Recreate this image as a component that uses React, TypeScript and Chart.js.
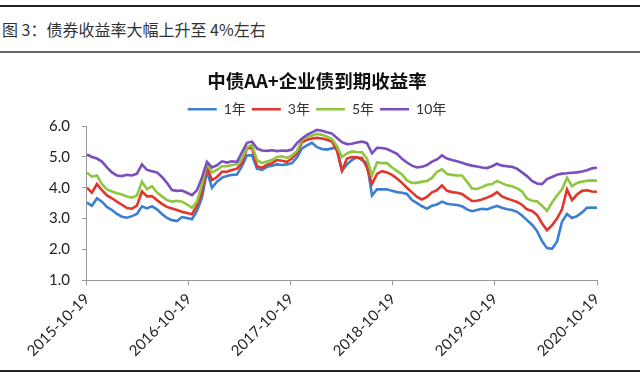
import React, { useEffect, useRef } from 'react';
import { Chart, registerables } from 'chart.js';
Chart.register(...registerables);

const headerText = '图 3：债券收益率大幅上升至 4%左右';
const chartTitle = '中债AA+企业债到期收益率';
const seriesNames = ['1年', '3年', '5年', '10年'];
const seriesColors = ['#3A7FD2', '#E2352C', '#8DC63F', '#7B4EBE'];
const xTickLabels = ['2015-10-19', '2016-10-19', '2017-10-19', '2018-10-19', '2019-10-19', '2020-10-19'];

const yield1Y = [
  3.52, 3.42, 3.66, 3.55, 3.38, 3.28, 3.15, 3.06, 3.03, 3.08,
  3.15, 3.40, 3.33, 3.40, 3.30, 3.15, 3.02, 2.95, 2.92, 3.05,
  3.02, 2.98, 3.25, 3.68, 4.54, 4.00, 4.20, 4.33, 4.38, 4.42,
  4.43, 4.70, 5.05, 5.06, 4.62, 4.58, 4.68, 4.72, 4.76, 4.74,
  4.76, 4.80, 4.98, 5.28, 5.38, 5.46, 5.32, 5.26, 5.24, 5.28,
  5.30, 4.55, 4.76, 4.90, 5.00, 4.90, 4.80, 3.75, 3.95, 3.95,
  3.95, 3.90, 3.86, 3.84, 3.80, 3.60, 3.50, 3.40, 3.32, 3.42,
  3.46, 3.55, 3.48, 3.46, 3.44, 3.40, 3.30, 3.24, 3.28, 3.32,
  3.30, 3.36, 3.41, 3.35, 3.30, 3.28, 3.22, 3.10, 2.95, 2.80,
  2.60, 2.27, 2.04, 2.02, 2.25, 2.90, 3.15, 3.02, 3.08, 3.20,
  3.35, 3.36, 3.35,
];
const yield3Y = [
  4.00, 3.84, 4.12, 3.92, 3.75, 3.66, 3.55, 3.45, 3.34, 3.32,
  3.42, 3.88, 3.72, 3.73, 3.60, 3.48, 3.38, 3.33, 3.28, 3.22,
  3.18, 3.14, 3.42, 3.85, 4.68, 4.25, 4.35, 4.52, 4.52, 4.58,
  4.62, 4.80, 5.28, 5.30, 4.70, 4.65, 4.75, 4.80, 4.90, 4.88,
  4.84, 4.95, 5.12, 5.48, 5.56, 5.60, 5.62, 5.60, 5.56, 5.50,
  5.20, 4.56, 4.95, 5.00, 4.98, 4.97, 4.65, 4.12, 4.45, 4.54,
  4.50, 4.42, 4.30, 4.16, 4.00, 3.85, 3.70, 3.62, 3.70, 3.85,
  3.92, 4.08, 3.90, 3.86, 3.84, 3.80, 3.68, 3.57, 3.58, 3.62,
  3.68, 3.75, 3.86, 3.72, 3.65, 3.60, 3.54, 3.45, 3.30, 3.25,
  3.12, 2.85, 2.62, 2.78, 3.00, 3.30, 3.95, 3.60, 3.78, 3.90,
  3.92, 3.88, 3.87,
];
const yield5Y = [
  4.49, 4.36, 4.40, 4.12, 3.95, 3.88, 3.82, 3.78, 3.72, 3.68,
  3.75, 4.20, 3.95, 4.05, 3.85, 3.72, 3.60, 3.55, 3.58, 3.55,
  3.46, 3.35, 3.55, 4.10, 4.80, 4.50, 4.58, 4.70, 4.70, 4.74,
  4.76, 4.95, 5.30, 5.40, 4.90, 4.80, 4.85, 4.90, 5.00, 5.02,
  4.97, 5.05, 5.20, 5.55, 5.65, 5.70, 5.75, 5.72, 5.66, 5.58,
  5.35, 5.00, 5.12, 5.18, 5.16, 5.15, 4.95, 4.40, 4.82, 4.80,
  4.80, 4.66, 4.55, 4.43, 4.24, 4.16, 4.16, 4.20, 4.22, 4.32,
  4.52, 4.60, 4.45, 4.42, 4.40, 4.40, 4.20, 3.98, 3.96, 4.02,
  4.10, 4.12, 4.22, 4.15, 4.08, 4.05, 3.98, 3.88, 3.65, 3.58,
  3.56, 3.42, 3.25, 3.52, 3.75, 3.95, 4.32, 4.05, 4.16, 4.20,
  4.23, 4.24, 4.23,
];
const yield10Y = [
  5.08, 5.00, 4.95, 4.85, 4.66, 4.50, 4.40, 4.38, 4.42, 4.40,
  4.46, 4.76, 4.58, 4.54, 4.50, 4.35, 4.16, 3.93, 3.90, 3.91,
  3.84, 3.76, 3.92, 4.33, 4.84, 4.66, 4.73, 4.86, 4.82, 4.86,
  4.84, 5.15, 5.46, 5.50, 5.28, 5.21, 5.20, 5.22, 5.19, 5.21,
  5.20, 5.24, 5.45, 5.60, 5.72, 5.80, 5.88, 5.85, 5.80, 5.76,
  5.62, 5.48, 5.42, 5.43, 5.47, 5.50, 5.45, 5.12, 5.30, 5.29,
  5.26, 5.18, 5.10, 4.94, 4.82, 4.72, 4.66, 4.68, 4.74, 4.85,
  4.92, 5.05, 4.95, 4.90, 4.86, 4.81, 4.76, 4.72, 4.69, 4.66,
  4.64, 4.70, 4.78, 4.72, 4.70, 4.68, 4.62, 4.50, 4.38, 4.22,
  4.14, 4.12, 4.28, 4.35, 4.42, 4.46, 4.47, 4.49, 4.50, 4.53,
  4.57, 4.63, 4.65,
];

const seriesValues = [yield1Y, yield3Y, yield5Y, yield10Y];
const yearsSpanned = xTickLabels.length - 1;

export default function App() {
  const ref = useRef<HTMLCanvasElement>(null);
  useEffect(() => {
    if (!ref.current) return;
    const tickFont = { family: "Lato, 'Noto Sans CJK SC', sans-serif", size: 15 };
    const datasets = seriesValues.map((vals, k) => {
      const step = yearsSpanned / (vals.length - 1);
      return {
        label: seriesNames[k],
        data: vals.map((v, i) => ({ x: i * step, y: v })),
        borderColor: seriesColors[k],
        backgroundColor: seriesColors[k],
        borderWidth: 2.6,
        pointRadius: 0,
        tension: 0,
        order: 4 - k,
      };
    });
    const chart = new Chart(ref.current, {
      type: 'line',
      data: { datasets },
      options: {
        animation: false,
        responsive: false,
        maintainAspectRatio: false,
        layout: { padding: { left: 37, right: 43, top: 9, bottom: 4 } },
        plugins: {
          title: {
            display: true,
            text: chartTitle,
            color: '#111',
            font: { family: "'Noto Sans CJK SC', sans-serif", size: 18.5, weight: 'bold' },
            padding: { top: 5, bottom: 4 },
          },
          legend: {
            display: true,
            position: 'top',
            labels: {
              usePointStyle: true,
              pointStyle: 'line',
              pointStyleWidth: 29,
              color: '#333',
              font: { family: "Lato, 'Noto Sans CJK SC', sans-serif", size: 14 },
              padding: 6,
              sort: (a: any, b: any) => a.datasetIndex - b.datasetIndex,
            },
          },
          tooltip: { enabled: false },
        },
        scales: {
          x: {
            type: 'linear',
            min: 0,
            max: yearsSpanned,
            ticks: {
              stepSize: 1,
              autoSkip: false,
              maxRotation: 45,
              minRotation: 45,
              padding: 5,
              color: '#222',
              font: tickFont,
              callback: (v: any) => xTickLabels[Math.round(Number(v))] ?? '',
            },
            grid: { drawOnChartArea: false, drawTicks: true, tickLength: 5, color: '#999' },
            border: { color: '#999', width: 1 },
          },
          y: {
            min: 1,
            max: 6,
            ticks: {
              stepSize: 1,
              padding: 12,
              color: '#222',
              font: tickFont,
              callback: (v: any) => Number(v).toFixed(1),
            },
            grid: { drawOnChartArea: false, drawTicks: true, tickLength: 5, color: '#999' },
            border: { color: '#999', width: 1 },
          },
        },
      },
    });
    return () => chart.destroy();
  }, []);

  return (
    <div style={{ position: 'fixed', left: 0, top: 0, width: 640, height: 377, background: '#fff', overflow: 'hidden' }}>
      <div style={{ position: 'absolute', left: 0, top: 5, width: 640, height: 2, background: '#222' }} />
      <div
        style={{
          position: 'absolute',
          left: 2,
          top: 17,
          fontFamily: "'Noto Sans CJK SC', sans-serif",
          fontSize: 16,
          lineHeight: '24px',
          color: '#333',
          whiteSpace: 'nowrap',
        }}
      >
        {headerText}
      </div>
      <div style={{ position: 'absolute', left: 0, top: 51, width: 640, height: 2, background: '#666' }} />
      <canvas
        ref={ref}
        width={640}
        height={313}
        style={{ position: 'absolute', left: 0, top: 56, width: 640, height: 313, display: 'block' }}
      />
      <div style={{ position: 'absolute', left: 0, top: 370, width: 640, height: 2, background: '#222' }} />
    </div>
  );
}
